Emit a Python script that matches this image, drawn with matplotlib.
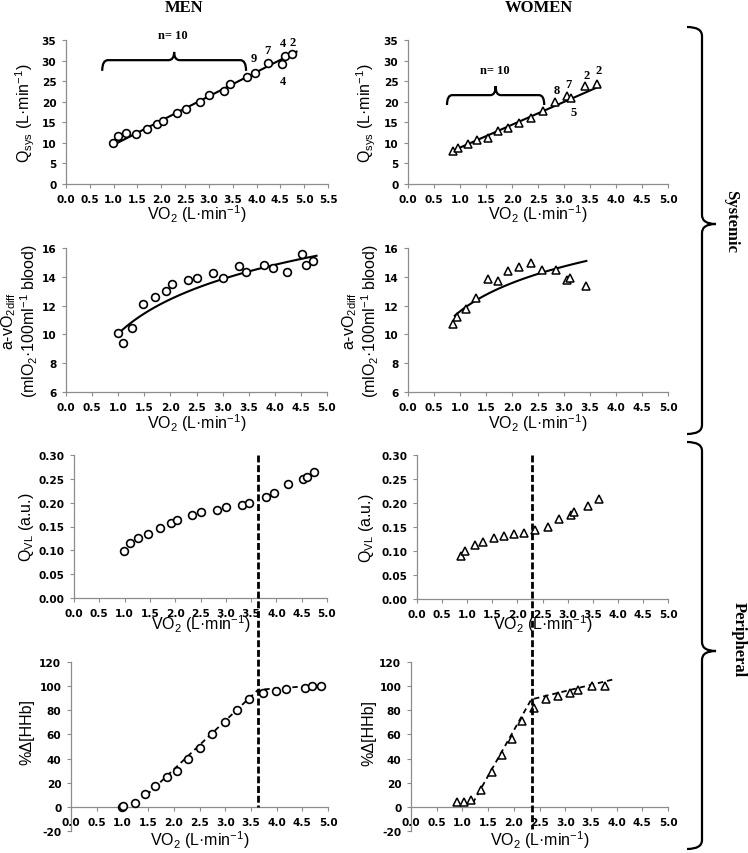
import numpy as np
import matplotlib
matplotlib.use("Agg")
import matplotlib.pyplot as plt
import matplotlib.transforms as mtransforms
from matplotlib.path import Path
from matplotlib.patches import PathPatch
from matplotlib.lines import Line2D
from matplotlib.ticker import MultipleLocator, FormatStrFormatter

# ---------------- data ----------------
men_vo2 = [0.99, 1.10, 1.27, 1.47, 1.70, 1.92, 2.04, 2.34, 2.51, 2.82, 3.00,
           3.32, 3.45, 3.80, 3.96, 4.23, 4.53, 4.60, 4.74]
men_qsys = [10.0, 11.75, 12.3, 12.2, 13.4, 14.7, 15.3, 17.2, 18.2, 19.9, 21.7,
            22.7, 24.2, 25.9, 27.1, 29.5, 29.1, 31.2, 31.6]
men_avo2 = [10.08, 9.39, 10.41, 12.13, 12.61, 13.0, 13.47, 13.75, 13.9, 14.25,
            13.93, 14.75, 14.31, 14.82, 14.59, 14.35, 15.58, 14.79, 15.09]
men_qvl = [0.099, 0.116, 0.125, 0.134, 0.147, 0.157, 0.164, 0.175, 0.180, 0.185,
           0.190, 0.196, 0.200, 0.212, 0.221, 0.239, 0.250, 0.254, 0.264]
men_hhb_vo2 = [1.00, 1.02, 1.24, 1.44, 1.63, 1.86, 2.07, 2.28, 2.51, 2.74, 2.99,
               3.22, 3.47, 3.74, 3.98, 4.19, 4.55, 4.68, 4.87]
men_hhb = [0.0, 0.3, 3.3, 10.5, 17.4, 24.6, 30.1, 39.4, 48.8, 60.1, 70.1,
           80.6, 89.4, 94.6, 96.3, 97.9, 98.8, 100.1, 100.4]

women_vo2 = [0.87, 0.96, 1.15, 1.32, 1.54, 1.74, 1.93, 2.14, 2.36, 2.60, 2.83,
             3.06, 3.13, 3.41, 3.63]
women_qsys = [8.1, 8.75, 9.8, 10.6, 11.1, 12.8, 13.5, 14.8, 16.0, 17.7, 19.9,
              21.3, 20.9, 23.9, 24.3]
women_qvl = [0.089, 0.101, 0.112, 0.118, 0.128, 0.131, 0.135, 0.138, 0.144,
             0.150, 0.166, 0.176, 0.181, 0.194, 0.208]
women_avo2_vo2 = [0.87, 0.95, 1.12, 1.30, 1.53, 1.73, 1.92, 2.13, 2.36, 2.58,
                  2.84, 3.06, 3.12, 3.42]
women_avo2 = [10.71, 11.2, 11.78, 12.5, 13.85, 13.68, 14.42, 14.7, 14.96, 14.45,
              14.47, 13.8, 13.93, 13.35]
women_hhb_vo2 = [0.90, 1.04, 1.16, 1.36, 1.57, 1.77, 1.97, 2.16, 2.39, 2.62,
                 2.86, 3.09, 3.24, 3.52, 3.78]
women_hhb = [4.4, 3.9, 5.8, 14.1, 29.0, 43.3, 56.6, 71.2, 82.2, 89.7, 91.9,
             94.6, 97.1, 99.9, 99.9]

# trend lines (coefficients)
men_qsys_fit = [5.90, 3.62]            # slope, intercept
men_qsys_fit_range = [1.00, 4.84]
women_qsys_fit = [5.55, 3.30]
women_qsys_fit_range = [0.87, 3.69]
men_avo2_fit = [3.45, 10.05]           # y = a*ln(x) + b
men_avo2_fit_range = [1.00, 4.80]
women_avo2_fit = [2.84, 11.60]         # y = a*ln(x) + b
women_avo2_fit_range = [0.90, 3.43]
men_hhb_fit_vo2 = [1.47, 3.64, 4.87]   # double-linear fit
men_hhb_fit = [9.7, 97.0, 100.8]
women_hhb_fit_vo2 = [1.20, 2.34, 3.93]
women_hhb_fit = [3.0, 89.0, 105.5]
men_threshold = 3.64
women_threshold = 2.35

# subject-count labels
men_n_text = ["9", "7", "4", "2", "4"]
women_n_text = ["8", "7", "2", "2", "5"]
n_label = "n= 10"

# ---------------- style ----------------
plt.rcParams["font.family"] = ["DejaVu Sans"]
plt.rcParams["font.weight"] = "bold"
plt.rcParams["mathtext.fontset"] = "custom"
plt.rcParams["mathtext.rm"] = "Liberation Sans:weight=normal"
plt.rcParams["mathtext.it"] = "Liberation Sans:italic:weight=normal"
plt.rcParams["mathtext.bf"] = "Liberation Sans:weight=bold"
plt.rcParams["mathtext.default"] = "rm"

W, H = 748, 854
fig = plt.figure(figsize=(W / 100, H / 100), dpi=100)
px = mtransforms.Affine2D().scale(1.0 / W, -1.0 / H).translate(0, 1) + fig.transFigure

GRAY = "#8c8c8c"
LAB = dict(family="Liberation Sans", fontsize=11.5, fontweight="normal")
SERIF = dict(family="Liberation Serif", fontweight="bold")

XLAB = r"VO$_2$ (L·min$^{-1}$)"


def make_ax(l, r, t, b, xmax, ylim, ystep, yfmt, xlab_y, ylab, ylab_x, ylab_y=None,
            zero_axis=False):
    ax = fig.add_axes([l / W, 1 - b / H, (r - l) / W, (b - t) / H])
    ax.set_xlim(0, xmax)
    ax.set_ylim(*ylim)
    ax.xaxis.set_major_locator(MultipleLocator(0.5))
    ax.yaxis.set_major_locator(MultipleLocator(ystep))
    ax.xaxis.set_major_formatter(FormatStrFormatter("%.1f"))
    ax.yaxis.set_major_formatter(FormatStrFormatter(yfmt))
    for s in ["top", "right"]:
        ax.spines[s].set_visible(False)
    for s in ["left", "bottom"]:
        ax.spines[s].set_color(GRAY)
        ax.spines[s].set_linewidth(0.9)
    if zero_axis:
        ax.spines["bottom"].set_position(("data", 0))
    ax.tick_params(direction="out", length=3, width=0.8, color=GRAY,
                   labelsize=7.6, pad=4)
    hgt = b - t
    wid = r - l
    ax.set_xlabel(XLAB, va="center", **LAB)
    ax.xaxis.set_label_coords(0.5, (b - xlab_y) / hgt)
    ax.set_ylabel(ylab, va="center", ha="center", linespacing=1.0, **LAB)
    if ylab_y is None:
        ylab_y = (t + b) / 2
    ax.yaxis.set_label_coords((ylab_x - l) / wid, (b - ylab_y) / hgt)
    return ax


MK_O = dict(marker="o", ms=5.6, mfc="white", mec="black", mew=1.2, ls="none",
            zorder=3)
MK_T = dict(marker="^", ms=6.2, mfc="white", mec="black", mew=1.1, ls="none",
            zorder=3)


def hbrace(ax, x0, x1, ybar, ytip, ypeak, r):
    xm = (x0 + x1) / 2
    verts = [(x0, ytip), (x0, ybar), (x0 + r, ybar),
             (xm - r, ybar), (xm, ybar), (xm, ypeak),
             (xm, ybar), (xm + r, ybar),
             (x1 - r, ybar), (x1, ybar), (x1, ytip)]
    codes = [Path.MOVETO, Path.CURVE3, Path.CURVE3,
             Path.LINETO, Path.CURVE3, Path.CURVE3,
             Path.CURVE3, Path.CURVE3,
             Path.LINETO, Path.CURVE3, Path.CURVE3]
    ax.add_patch(PathPatch(Path(verts, codes), fc="none", ec="black", lw=1.6,
                           clip_on=False, capstyle="butt"))


def vbrace(y0, y1, ym, xl, xt, xm, r):
    verts = [(xt, y0), (xl, y0), (xl, y0 + r),
             (xl, ym - r), (xl, ym), (xm, ym),
             (xl, ym), (xl, ym + r),
             (xl, y1 - r), (xl, y1), (xt, y1)]
    codes = [Path.MOVETO, Path.CURVE3, Path.CURVE3,
             Path.LINETO, Path.CURVE3, Path.CURVE3,
             Path.CURVE3, Path.CURVE3,
             Path.LINETO, Path.CURVE3, Path.CURVE3]
    fig.add_artist(PathPatch(Path(verts, codes), fc="none", ec="black", lw=1.6,
                             transform=px, clip_on=False))


QSYS = r"Q$_{\rm sys}$ (L·min$^{-1}$)"
AVO2 = r"a-vO$_{2\rm diff}$" + "\n" + r"(mlO$_2$·100ml$^{-1}$ blood)"
QVL = r"Q$_{\rm VL}$ (a.u.)"
HHB = "%Δ[HHb]"

# ---------------- row 1: Qsys ----------------
ax1 = make_ax(66, 328, 41, 185, 5.5, (0, 35), 5, "%d", 214, QSYS, 25)
ax1.plot(men_vo2, men_qsys, **MK_O)
xf = np.linspace(*men_qsys_fit_range, 50)
ax1.plot(xf, np.polyval(men_qsys_fit, xf), color="black", lw=1.5, zorder=2)
hbrace(ax1, 0.76, 3.78, 30.1, 27.5, 32.1, 0.12)
ax1.text(2.25, 36.2, n_label, ha="center", va="center", fontsize=9, clip_on=False, **SERIF)
for (tx, ty), s in zip([(3.95, 30.6), (4.22, 32.5), (4.56, 34.3), (4.76, 34.6), (4.56, 25.0)],
                       men_n_text):
    ax1.text(tx, ty, s, ha="center", va="center", fontsize=9, clip_on=False, **SERIF)

ax2 = make_ax(408, 668, 41, 185, 5.0, (0, 35), 5, "%d", 214, QSYS, 366)
ax2.plot(women_vo2, women_qsys, **MK_T)
xf = np.linspace(*women_qsys_fit_range, 50)
ax2.plot(xf, np.polyval(women_qsys_fit, xf), color="black", lw=1.5, zorder=2)
hbrace(ax2, 0.75, 2.62, 21.6, 19.2, 23.8, 0.1)
ax2.text(1.67, 27.8, n_label, ha="center", va="center", fontsize=9, clip_on=False, **SERIF)
for (tx, ty), s in zip([(2.87, 22.8), (3.08, 24.3), (3.44, 26.5), (3.67, 27.8), (3.19, 17.4)],
                       women_n_text):
    ax2.text(tx, ty, s, ha="center", va="center", fontsize=9, clip_on=False, **SERIF)

# ---------------- row 2: a-vO2diff ----------------
ax3 = make_ax(66, 327, 249, 393, 5.0, (6, 16), 2, "%d", 423, AVO2, 20)
ax3.plot(men_vo2, men_avo2, **MK_O)
xf = np.linspace(*men_avo2_fit_range, 80)
ax3.plot(xf, men_avo2_fit[0] * np.log(xf) + men_avo2_fit[1], color="black", lw=1.5, zorder=2)

ax4 = make_ax(408, 668, 249, 393, 5.0, (6, 16), 2, "%d", 423, AVO2, 361)
ax4.plot(women_avo2_vo2, women_avo2, **MK_T)
xf = np.linspace(*women_avo2_fit_range, 80)
ax4.plot(xf, women_avo2_fit[0] * np.log(xf) + women_avo2_fit[1], color="black", lw=1.5, zorder=2)

# ---------------- row 3: QVL ----------------
ax5 = make_ax(74, 327, 456, 599, 5.0, (0, 0.30), 0.05, "%.2f", 624, QVL, 26)
ax5.plot(men_vo2, men_qvl, **MK_O)

ax6 = make_ax(417, 668, 456, 600, 5.0, (0, 0.30), 0.05, "%.2f", 624, QVL, 366)
ax6.plot(women_vo2, women_qvl, **MK_T)

# ---------------- row 4: %Δ[HHb] ----------------
ax7 = make_ax(71, 328, 663, 832, 5.0, (-20, 120), 20, "%d", 840, HHB, 27, 732,
              zero_axis=True)
ax7.plot(men_hhb_vo2, men_hhb, **MK_O)
ax7.plot(men_hhb_fit_vo2, men_hhb_fit, color="black", lw=1.3, dashes=(3.0, 2.2), zorder=2)

ax8 = make_ax(411, 668, 663, 832, 5.0, (-20, 120), 20, "%d", 840, HHB, 369, 733,
              zero_axis=True)
ax8.plot(women_hhb_vo2, women_hhb, **MK_T)
ax8.plot(women_hhb_fit_vo2, women_hhb_fit, color="black", lw=1.3, dashes=(3.0, 2.2), zorder=2)


# vertical threshold lines spanning the QVL and HHb panels
def zero_px(top, bottom, lo, hi):
    return bottom - (0 - lo) / (hi - lo) * (bottom - top)


tr_m = mtransforms.blended_transform_factory(ax7.transData, px)
fig.add_artist(Line2D([men_threshold, men_threshold], [456, zero_px(663, 832, -20, 120)],
                      transform=tr_m, color="black", lw=2.0, dashes=(2.5, 1.0)))
tr_w = mtransforms.blended_transform_factory(ax8.transData, px)
fig.add_artist(Line2D([women_threshold, women_threshold], [456, 830],
                      transform=tr_w, color="black", lw=2.0, dashes=(2.5, 1.0)))

# ---------------- titles and group braces ----------------
fig.text(184 / W, 1 - 8 / H, "MEN", ha="center", va="center", fontsize=12, **SERIF)
fig.text(539 / W, 1 - 8 / H, "WOMEN", ha="center", va="center", fontsize=12, **SERIF)

vbrace(28, 435, 225, 702, 687, 716, 9)
vbrace(443, 850, 652, 702, 687, 716, 9)
fig.text(731 / W, 1 - 222 / H, "Systemic", rotation=-90, ha="center", va="center",
         fontsize=12, **SERIF)
fig.text(739 / W, 1 - 640 / H, "Peripheral", rotation=-90, ha="center", va="center",
         fontsize=12, **SERIF)

fig.savefig("out.png", dpi=100, facecolor="white")
